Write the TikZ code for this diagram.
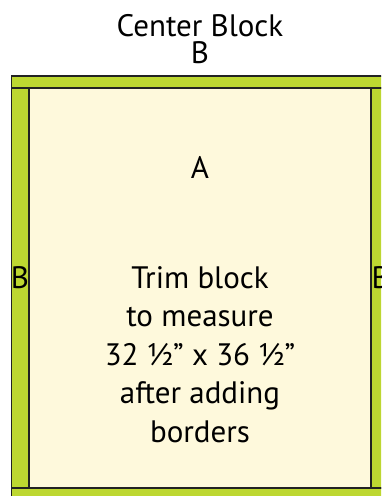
\documentclass[tikz,border=0pt]{standalone}
\usepackage{fontspec}
\setmainfont{PT Sans}
\definecolor{bordergreen}{HTML}{BDD731}
\definecolor{cream}{HTML}{FEF9DC}
\definecolor{edge}{HTML}{222222}
\tikzset{
  lbl/.style={inner sep=0pt, anchor=base, font=\fontsize{31}{31}\selectfont, text=black},
  strip/.style={fill=bordergreen, draw=edge, line width=1.2pt},
  field/.style={fill=cream, draw=edge, line width=1.6pt}
}
\begin{document}
\begin{tikzpicture}[x=1pt,y=-1pt]
\useasboundingbox (0,0) rectangle (381,496);
\begin{scope}
\clip (0,0) rectangle (381,496);
\path[strip] (11.5,76) rectangle (400,88);
\path[strip] (11.5,488) rectangle (400,510);
\path[strip] (11.5,88) rectangle (29,488);
\path[strip] (371,88) rectangle (400,488);
\path[field] (29,88) rectangle (371,488);
\node[lbl, anchor=base west] (bright) at (371.5,288) {B};
\end{scope}
\node[lbl, text depth=0pt] (title) at (200,36) {Center Block};
\node[lbl, text height=21pt] (btop) at (200,63) {B};
\node[lbl] (a) at (200,178) {A};
\node[lbl] (bleft) at (20,288) {B};
\node[lbl] (t1) at (200,288) {Trim block};
\node[lbl] (t2) at (200,326.5) {to measure};
\node[lbl] (t3) at (200,365) {32 ½” x 36 ½”};
\node[lbl] (t4) at (200,403.5) {after adding};
\node[lbl] (t5) at (200,442) {borders};
\end{tikzpicture}
\end{document}
